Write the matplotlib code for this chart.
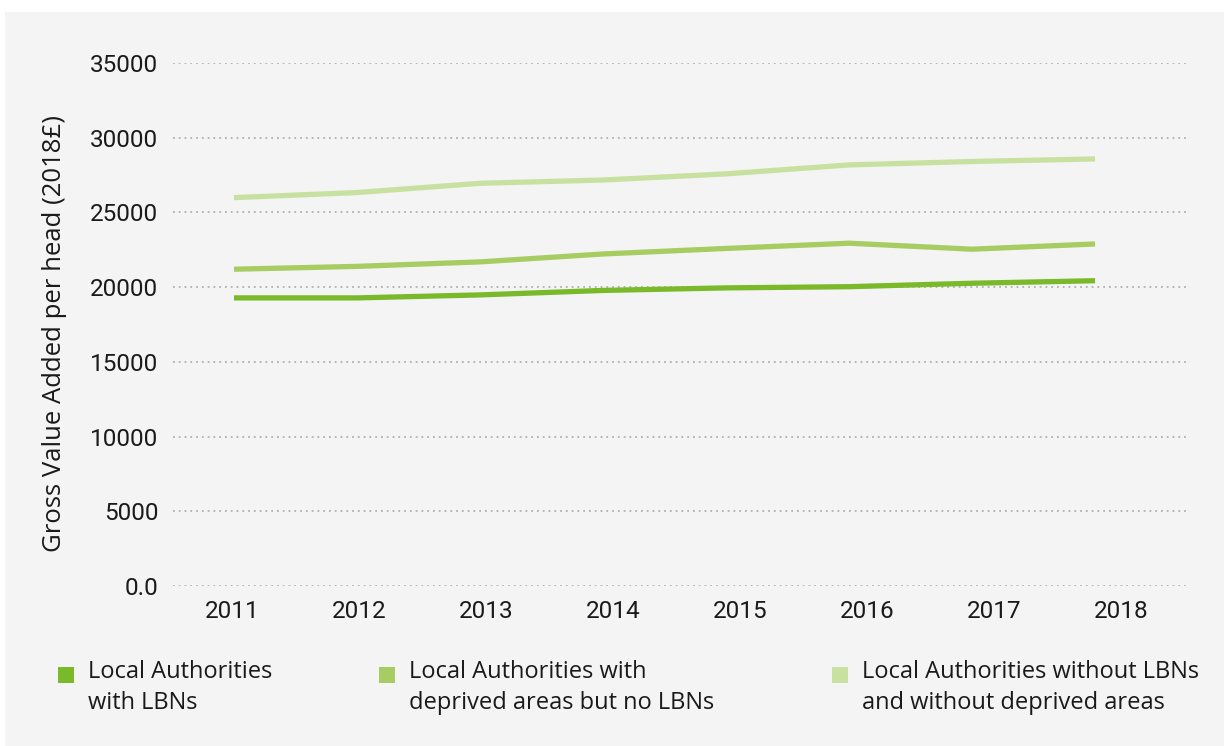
import matplotlib
matplotlib.use("Agg")
import matplotlib.pyplot as plt
from matplotlib.patches import Rectangle

years = ["2011", "2012", "2013", "2014", "2015", "2016", "2017", "2018"]
with_lbns = [19280, 19280, 19480, 19780, 19950, 20030, 20260, 20430]
deprived_no_lbns = [21200, 21390, 21690, 22220, 22590, 22940, 22540, 22890]
without_both = [25990, 26330, 26950, 27170, 27580, 28180, 28410, 28580]
yticks = [0, 5000, 10000, 15000, 20000, 25000, 30000, 35000]
ytick_labels = ["0.0", "5000", "10000", "15000", "20000", "25000", "30000", "35000"]
series_labels = ["Local Authorities\nwith LBNs",
                 "Local Authorities with\ndeprived areas but no LBNs",
                 "Local Authorities without LBNs\nand without deprived areas"]
colors = ["#7ab929", "#a7cd62", "#c8e1a1"]

plt.rcParams['font.family'] = ['Roboto', 'DejaVu Sans']

W, H = 1224, 746
fig = plt.figure(figsize=(W / 100, H / 100), dpi=100, facecolor="white")
bg = fig.add_axes([5 / W, 0, 1 - 5 / W, 1 - 12 / H], zorder=0)
bg.set_facecolor("#f4f4f4")
bg.set_xticks([]); bg.set_yticks([])
for s in bg.spines.values():
    s.set_visible(False)

rect = [173 / W, 1 - 586 / H, (1190 - 173) / W, (586 - 63) / H]
ax = fig.add_axes(rect, zorder=2)
ax.set_facecolor("none")
x = list(range(len(years)))
for vals, c in zip([with_lbns, deprived_no_lbns, without_both], colors):
    ax.plot(x, vals, color=c, lw=3.8, solid_capstyle="butt", zorder=3)

ax.set_ylim(0, 35000)
ax.set_xlim(-0.496, 7.772)
ax.set_yticks(yticks)
ax.set_yticklabels(ytick_labels)
ax.set_xticks([])
ax.yaxis.grid(True, linestyle=(0, (1, 2.2)), color="#b0b0b0", lw=1.3)
ax.set_axisbelow(True)
for s in ax.spines.values():
    s.set_visible(False)
ax.tick_params(length=0, labelsize=17.5, colors="#1a1a1a")
ax.tick_params(axis="y", pad=10.5)
ax.set_ylabel("Gross Value Added per head (2018£)", fontsize=18.5, color="#1a1a1a",
              family=["Open Sans", "DejaVu Sans"])
ax.yaxis.set_label_coords(-(173 - 67) / (1190 - 173), (586 - 333) / (586 - 63))

# category labels on a band axis
axl = fig.add_axes(rect, zorder=1)
axl.set_facecolor("none")
axl.set_xlim(-0.47, 7.54)
axl.set_xticks(x)
axl.set_xticklabels(years)
axl.set_yticks([])
for s in axl.spines.values():
    s.set_visible(False)
axl.tick_params(length=0, labelsize=17.5, colors="#1a1a1a", pad=10)

# legend
sq_x = [58, 379, 832]
txt_x = [88, 409, 862]
for sx, tx, lab, c in zip(sq_x, txt_x, series_labels, colors):
    fig.patches.append(Rectangle((sx / W, 1 - 683 / H), 16 / W, 16 / H,
                                 transform=fig.transFigure, facecolor=c, edgecolor="none", zorder=3))
    fig.text(tx / W, 1 - 660 / H, lab, fontsize=17, color="#1a1a1a",
             family=["Open Sans", "DejaVu Sans"],
             va="top", ha="left", linespacing=1.38, zorder=3)

fig.savefig("out.png", dpi=100, facecolor="white")
